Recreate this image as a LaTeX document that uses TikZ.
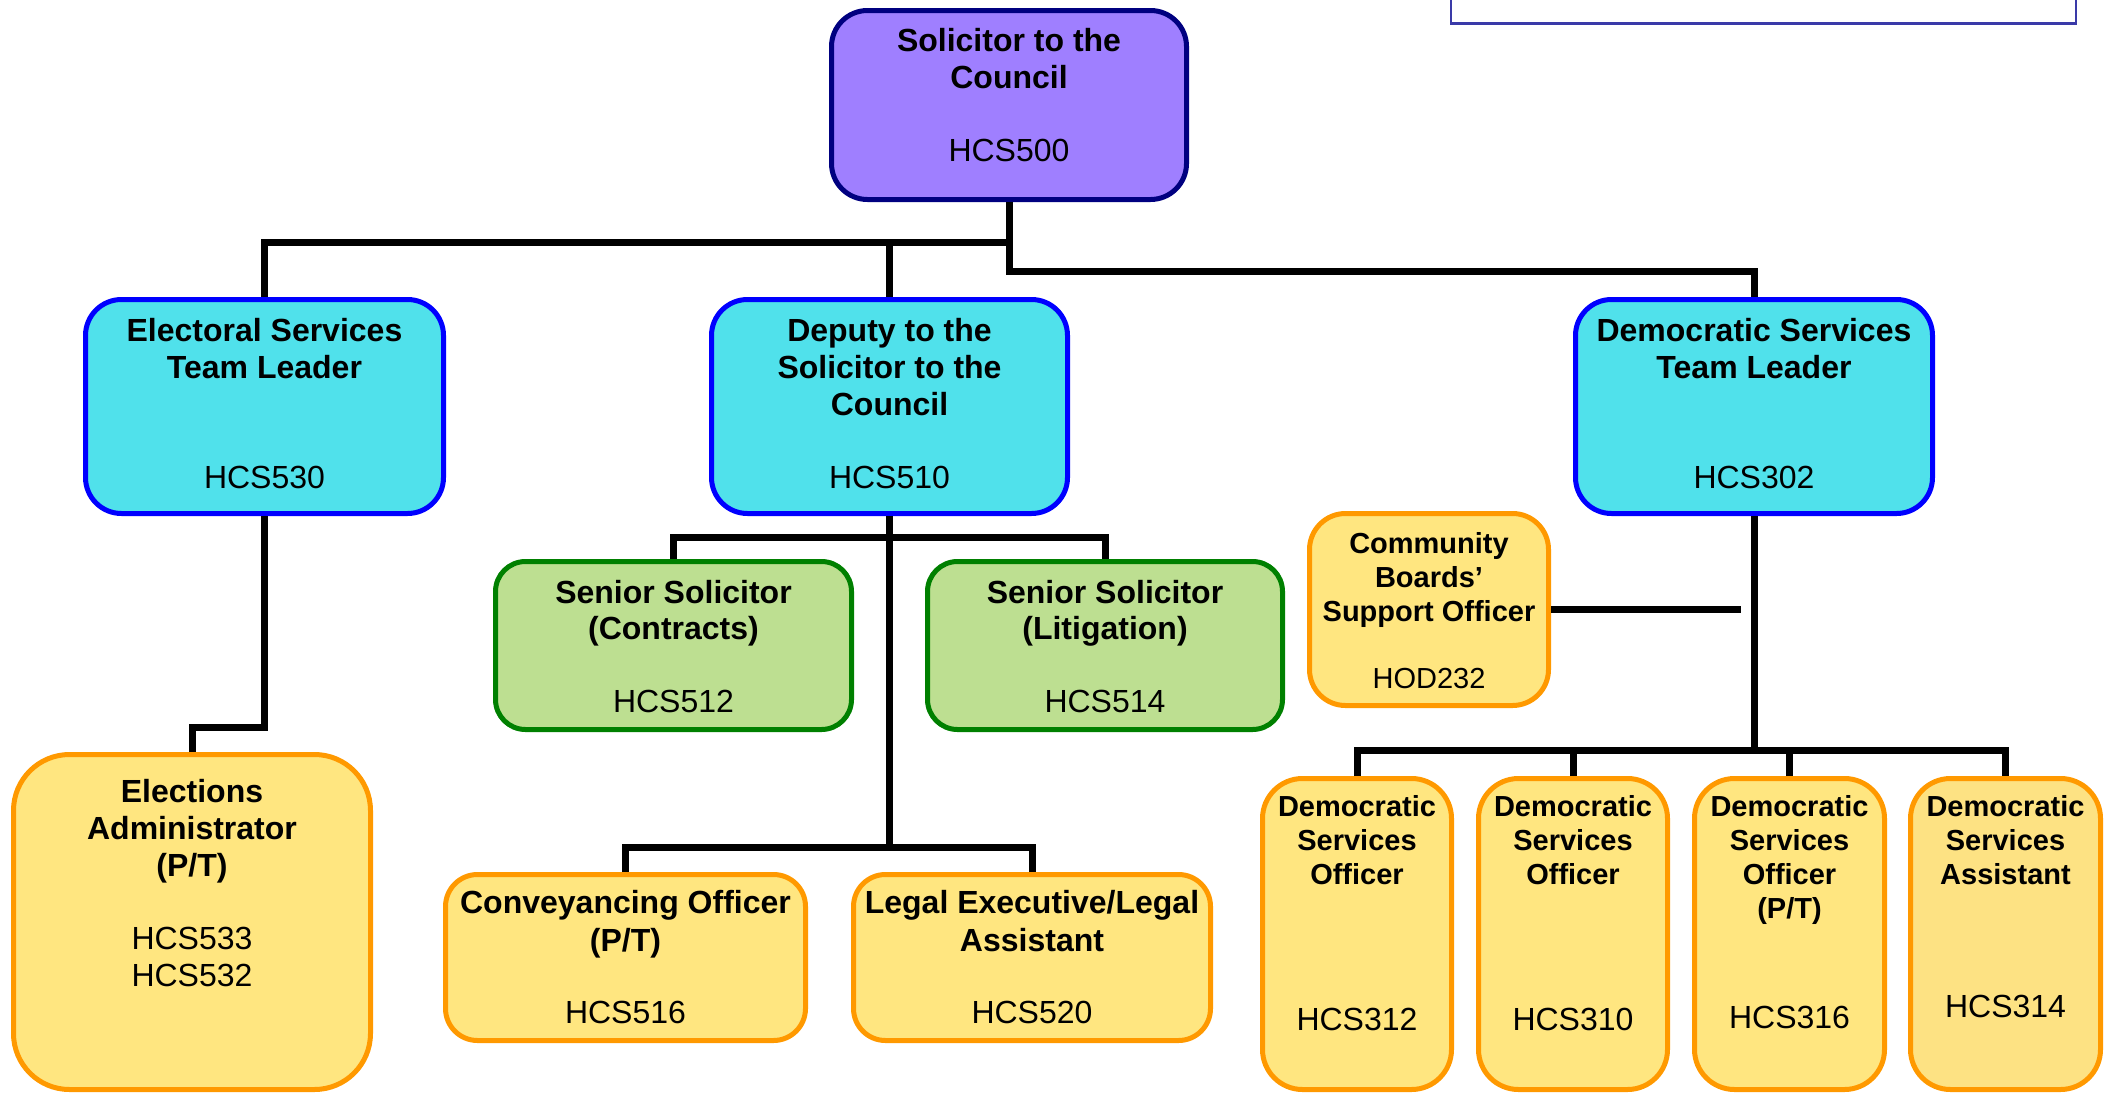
\documentclass[tikz,border=0pt]{standalone}
\usepackage{fontspec}
\setmainfont{Liberation Sans}
\definecolor{purpfill}{HTML}{9F7FFF}
\definecolor{purpline}{HTML}{000080}
\definecolor{cyanfill}{HTML}{50E1EB}
\definecolor{blueline}{HTML}{0000FF}
\definecolor{greenfill}{HTML}{BDDF91}
\definecolor{greenline}{HTML}{008000}
\definecolor{yelfill}{HTML}{FFE680}
\definecolor{yelfillb}{HTML}{FDE283}
\definecolor{orline}{HTML}{FF9900}
\definecolor{legline}{HTML}{3A3AA8}
\tikzset{
  box/.style={rectangle, draw, line width=5pt, inner sep=0pt},
  purpbox/.style={box, fill=purpfill, draw=purpline, rounded corners=36pt},
  cyanbox/.style={box, fill=cyanfill, draw=blueline, rounded corners=36pt},
  greenbox/.style={box, fill=greenfill, draw=greenline, rounded corners=30pt},
  yelbox/.style={box, fill=yelfill, draw=orline, rounded corners=#1},
  yelbox/.default=32pt,
  ttl/.style={anchor=base, inner sep=0pt, font=\fontsize{32}{37}\selectfont\bfseries},
  code/.style={anchor=base, inner sep=0pt, font=\fontsize{32}{37}\selectfont},
  sttl/.style={anchor=base, inner sep=0pt, font=\fontsize{29}{34}\selectfont\bfseries},
  scode/.style={anchor=base, inner sep=0pt, font=\fontsize{29}{34}\selectfont},
  conn/.style={line width=7pt, draw=black},
}
\begin{document}
\begin{tikzpicture}[x=1pt,y=-1pt]
\useasboundingbox (0,0) rectangle (2105,1093);
% top-right frame
\node[draw=legline, line width=2.5pt, fill=white, minimum width=625pt, minimum height=44pt, inner sep=0pt] (legend) at (1763.5,1.5) {};
% boxes
\node[purpbox, minimum width=355pt, minimum height=189pt] (sol) at (1009,105) {};
\node[cyanbox, minimum width=358pt, minimum height=214pt] (els) at (264.5,406.5) {};
\node[cyanbox, minimum width=356pt, minimum height=214pt] (dep) at (889.5,406.5) {};
\node[cyanbox, minimum width=357pt, minimum height=214pt] (dtl) at (1754,406.5) {};
\node[greenbox, minimum width=356pt, minimum height=168pt] (ssc) at (673.5,645.5) {};
\node[greenbox, minimum width=355pt, minimum height=168pt] (ssl) at (1105,645.5) {};
\node[yelbox=36pt, minimum width=239pt, minimum height=192pt] (cbo) at (1429,609.5) {};
\node[yelbox=56pt, minimum width=357pt, minimum height=335pt] (ela) at (192,922) {};
\node[yelbox, minimum width=360pt, minimum height=166pt] (con) at (625.5,957.5) {};
\node[yelbox, minimum width=357pt, minimum height=166pt] (leg) at (1032,957.5) {};
\node[yelbox=40pt, minimum width=189pt, minimum height=311pt] (dso1) at (1357,934) {};
\node[yelbox=40pt, minimum width=189pt, minimum height=311pt] (dso2) at (1573,934) {};
\node[yelbox=40pt, minimum width=190pt, minimum height=311pt] (dso3) at (1789.5,934) {};
\node[yelbox=40pt, fill=yelfillb, minimum width=190pt, minimum height=311pt] (dsa) at (2005.5,934) {};
% connectors
\coordinate (jA) at (1009,242);
\coordinate (jB) at (1009,271);
\coordinate (cbx) at (1741,609.5);
\draw[conn] (sol.south) -- (jB) -| (dtl.north);
\draw[conn] (jA) -| (els.north);
\draw[conn] (jA -| dep.north) -- (dep.north);
\draw[conn] (els.south) -- ++(0,211) -| (ela.north);
\draw[conn] (dep.south) -- ++(0,333);
\draw[conn] (ssc.north) -- ++(0,-22) -| (ssl.north);
\draw[conn] (con.north) -- ++(0,-25) -| (leg.north);
\draw[conn] (dtl.south) -- ++(0,236);
\draw[conn] (dso1.north) -- ++(0,-26) -| (dsa.north);
\draw[conn] (dso2.north) -- ++(0,-26);
\draw[conn] (dso3.north) -- ++(0,-26);
\draw[conn] (cbo.east) -- (cbx);
% texts
\node[ttl] (solT1) at (1009,51) {Solicitor to the};
\node[ttl] (solT2) at (1009,88) {Council};
\node[code] (solC) at (1009,161) {HCS500};
\node[ttl] (elsT1) at (264.5,341) {Electoral Services};
\node[ttl] (elsT2) at (264.5,378) {Team Leader};
\node[code] (elsC) at (264.5,488) {HCS530};
\node[ttl] (depT1) at (889.5,341) {Deputy to the};
\node[ttl] (depT2) at (889.5,378) {Solicitor to the};
\node[ttl] (depT3) at (889.5,415) {Council};
\node[code] (depC) at (889.5,488) {HCS510};
\node[ttl] (dtlT1) at (1754,341) {Democratic Services};
\node[ttl] (dtlT2) at (1754,378) {Team Leader};
\node[code] (dtlC) at (1754,488) {HCS302};
\node[ttl] (sscT1) at (673.5,603) {Senior Solicitor};
\node[ttl] (sscT2) at (673.5,639) {(Contracts)};
\node[code] (sscC) at (673.5,712) {HCS512};
\node[ttl] (sslT1) at (1105,603) {Senior Solicitor};
\node[ttl] (sslT2) at (1105,639) {(Litigation)};
\node[code] (sslC) at (1105,712) {HCS514};
\node[sttl] (cboT1) at (1429,553) {Community};
\node[sttl] (cboT2) at (1429,587) {Boards’};
\node[sttl] (cboT3) at (1429,621) {Support Officer};
\node[scode] (cboC) at (1429,688) {HOD232};
\node[ttl] (elaT1) at (192,802) {Elections};
\node[ttl] (elaT2) at (192,839) {Administrator};
\node[ttl] (elaT3) at (192,876) {(P/T)};
\node[code] (elaC1) at (192,949) {HCS533};
\node[code] (elaC2) at (192,986) {HCS532};
\node[ttl] (conT1) at (625.5,913) {Conveyancing Officer};
\node[ttl] (conT2) at (625.5,951) {(P/T)};
\node[code] (conC) at (625.5,1023) {HCS516};
\node[ttl] (legT1) at (1032,913) {Legal Executive/Legal};
\node[ttl] (legT2) at (1032,951) {Assistant};
\node[code] (legC) at (1032,1023) {HCS520};
\node[sttl] (d1T1) at (1357,816) {Democratic};
\node[sttl] (d1T2) at (1357,850) {Services};
\node[sttl] (d1T3) at (1357,884) {Officer};
\node[code] (d1C) at (1357,1030) {HCS312};
\node[sttl] (d2T1) at (1573,816) {Democratic};
\node[sttl] (d2T2) at (1573,850) {Services};
\node[sttl] (d2T3) at (1573,884) {Officer};
\node[code] (d2C) at (1573,1030) {HCS310};
\node[sttl] (d3T1) at (1789.5,816) {Democratic};
\node[sttl] (d3T2) at (1789.5,850) {Services};
\node[sttl] (d3T3) at (1789.5,884) {Officer};
\node[sttl] (d3T4) at (1789.5,918) {(P/T)};
\node[code] (d3C) at (1789.5,1028) {HCS316};
\node[sttl] (daT1) at (2005.5,816) {Democratic};
\node[sttl] (daT2) at (2005.5,850) {Services};
\node[sttl] (daT3) at (2005.5,884) {Assistant};
\node[code] (daC) at (2005.5,1017) {HCS314};
\end{tikzpicture}
\end{document}
